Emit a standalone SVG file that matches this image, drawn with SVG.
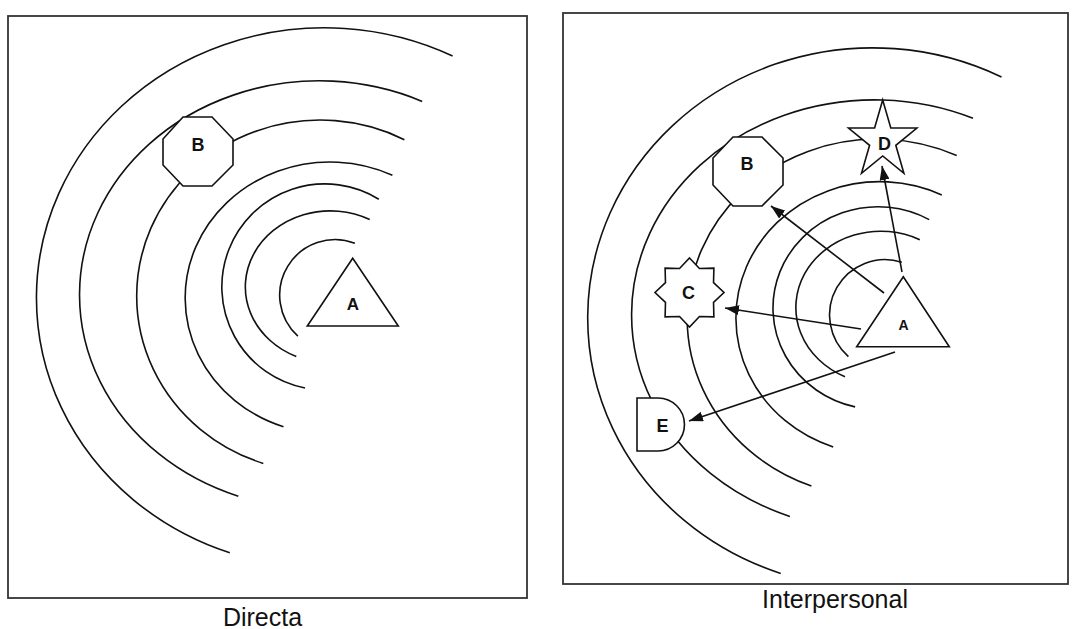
<svg xmlns="http://www.w3.org/2000/svg" width="1072" height="629" viewBox="0 0 1072 629">
<style>
.frame{fill:none;stroke:#333;stroke-width:1.8}
.arc{fill:none;stroke:#111;stroke-width:1.6}
.shape{fill:#fff;stroke:#111;stroke-width:1.6;stroke-linejoin:miter}
.lbl{font-family:"Liberation Sans",Arial,sans-serif;font-weight:bold;font-size:18px;fill:#111;text-anchor:middle}
.cap{font-family:"Liberation Sans",Arial,sans-serif;font-size:25px;fill:#111;text-anchor:middle}
.conn{fill:none;stroke:#111;stroke-width:1.6}
</style>
<defs>
<marker id="ah" viewBox="0 0 14 10" refX="14" refY="5" markerWidth="14" markerHeight="10" orient="auto" markerUnits="userSpaceOnUse">
<path d="M0,0 L14,5 L0,10 z" fill="#111"/>
</marker>
</defs>
<rect width="1072" height="629" fill="#fff"/>

<g id="panel-directa">
<rect class="frame" x="8" y="16" width="519" height="582"/>
<g id="waves-left">
<path class="arc" d="M452.6,56 A288,270 0 1 0 229.8,552.8"/>
<path class="arc" d="M422.2,101.4 A240,214 0 1 0 238.3,496.2"/>
<path class="arc" d="M404.4,139.7 A183.5,176 0 1 0 263.3,463.4"/>
<path class="arc" d="M392.4,175.2 A145,136 0 1 0 283.5,426.8"/>
<path class="arc" d="M378.8,199.2 A103,103 0 1 0 305,388"/>
<path class="arc" d="M369.7,219.5 A85,76 0 1 0 296.3,356.5"/>
<path class="arc" d="M354.9,243.2 A55.5,55.5 0 0 0 297.9,336.2"/>
</g>
<g id="left-B">
<polygon class="shape" points="183,117 212,117 233,139 233,165 212,186 183,186 163,165 163,139"/>
<text class="lbl" x="198" y="151">B</text>
</g>
<g id="left-A">
<polygon class="shape" points="352.7,258.3 398.3,326 307.3,326"/>
<text class="lbl" x="353" y="309.5" style="font-size:17px">A</text>
</g>
<text class="cap" x="262.5" y="626">Directa</text>
</g>

<g id="panel-interpersonal">
<rect class="frame" x="563" y="13" width="505" height="571"/>
<g id="waves-right">
<path class="arc" d="M1001.5,77 A285,270 0 1 0 780.7,573.4"/>
<path class="arc" d="M973,118.3 A243,215 0 1 0 789.9,516.4"/>
<path class="arc" d="M956.7,155.5 A190,179 0 1 0 811.4,486"/>
<path class="arc" d="M941.8,194.9 A144,136.3 0 1 0 833.2,446.9"/>
<path class="arc" d="M929.2,219.6 A105,101.3 0 1 0 855.1,406.9"/>
<path class="arc" d="M919.8,239.7 A85,76.3 0 1 0 845,376.7"/>
<path class="arc" d="M901.8,262.2 A55.4,55.4 0 0 0 848.4,356.6"/>
</g>
<g id="right-B">
<polygon class="shape" points="733,137 762,137 783,158 783,185 762,206 733,206 713,185 713,158"/>
<text class="lbl" x="747" y="170">B</text>
</g>
<g id="right-C">
<polygon class="shape" points="689.5,258 699.45,268.48 713.9,268.1 713.52,282.55 724,292.5 713.52,302.45 713.9,316.9 699.45,316.52 689.5,327 679.55,316.52 665.1,316.9 665.48,302.45 655,292.5 665.48,282.55 665.1,268.1 679.55,268.48"/>
<text class="lbl" x="688.5" y="299">C</text>
</g>
<g id="right-D">
<polygon class="shape" points="882.7,100 890.8,128 916.9,128 895.8,145.3 903.9,173.3 882.7,156 861.5,173.3 869.6,145.3 848.5,128 874.6,128"/>
<text class="lbl" x="884.5" y="150">D</text>
</g>
<g id="right-E">
<path class="shape" d="M637,398 H658 A26.5,26.5 0 0 1 658,451 H637 Z"/>
<text class="lbl" x="662.5" y="432">E</text>
</g>
<g id="right-A">
<polygon class="shape" points="903.3,276.7 949.3,346.7 856.7,346.7"/>
<text class="lbl" x="903.5" y="329.5" style="font-size:14px">A</text>
</g>
<g id="connectors">
<line class="conn" x1="902" y1="272" x2="882" y2="166" marker-end="url(#ah)"/>
<line class="conn" x1="884" y1="293" x2="771" y2="206" marker-end="url(#ah)"/>
<line class="conn" x1="861" y1="329" x2="725" y2="308" marker-end="url(#ah)"/>
<line class="conn" x1="895" y1="352" x2="689" y2="421" marker-end="url(#ah)"/>
</g>
<text class="cap" x="835" y="608">Interpersonal</text>
</g>
</svg>
